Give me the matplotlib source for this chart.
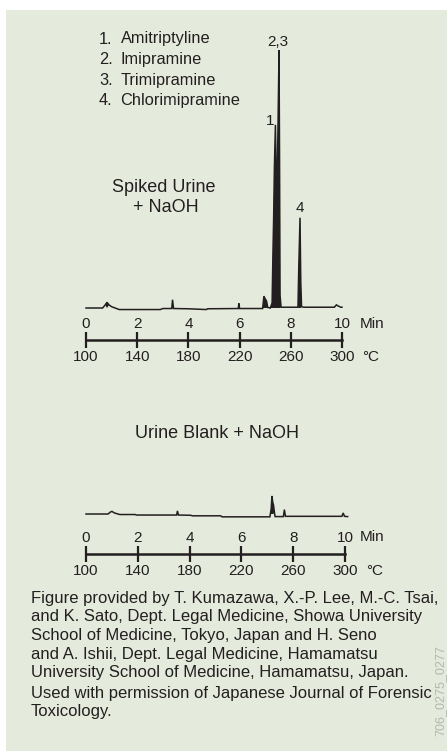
import matplotlib
matplotlib.use("Agg")
import matplotlib.pyplot as plt
from matplotlib.patches import Rectangle

W, H = 447, 751
plt.rcParams['font.family'] = ['Liberation Sans', 'DejaVu Sans']

INK = '#231f20'
PANEL = '#e5ebdc'

compounds = ['Amitriptyline', 'Imipramine', 'Trimipramine', 'Chlorimipramine']

# spiked urine + NaOH: retention time (min) and detector response (peak 2,3 = 100)
spiked_t = [0.0, 0.65, 0.75, 0.82, 0.9, 1.0, 1.3, 2.9, 3.0, 3.35, 3.38, 3.42,
            4.0, 4.7, 4.75, 5.95, 5.97, 6.0, 6.9, 6.95, 7.0, 7.05, 7.1, 7.2,
            7.27, 7.30, 7.33, 7.36, 7.40, 7.43, 7.46, 7.50, 7.54, 7.56, 7.58,
            7.62, 7.7, 8.28, 8.31, 8.36, 8.39, 8.42, 8.5, 9.7, 9.78, 9.85,
            9.95, 10.0]
spiked_s = [0.0, 0.0, 1.2, 2.2, 1.2, 0.5, -0.6, -0.6, -0.2, -0.2, 3.2, -0.2,
            -0.3, -0.6, -0.3, -0.2, 1.8, -0.2, -0.2, 4.6, 3.5, 2.8, 0.2, 0.0,
            2.0, 20.0, 35.0, 55.0, 71.0, 50.0, 44.0, 70.0, 100.0, 60.0, 5.0,
            0.3, 0.3, 0.3, 15.0, 35.0, 10.0, 0.5, 0.3, 0.3, 1.2, 0.8,
            0.3, 0.3]

peak_labels = ['1', '2,3', '4']
peak_t = [7.40, 7.54, 8.36]
peak_s = [71.0, 100.0, 35.0]

# urine blank + NaOH, same response units
blank_t = [0.0, 0.85, 0.95, 1.0, 1.1, 1.3, 1.9, 1.95, 3.5, 3.53, 3.57, 4.05,
           4.1, 5.2, 5.25, 7.1, 7.15, 7.18, 7.21, 7.24, 7.27, 7.3, 7.62, 7.66,
           7.7, 9.88, 9.93, 9.98, 10.1]
blank_s = [0.0, 0.0, 0.8, 1.0, 0.4, -0.2, -0.2, -0.4, -0.4, 1.2, -0.4, -0.5,
           -0.7, -0.7, -1.1, -1.1, 2.0, 7.0, 4.5, 3.5, 1.0, -1.0, -1.0, 1.7,
           -0.9, -0.9, 0.4, -0.9, -1.0]

min_ticks = [0, 2, 4, 6, 8, 10]
temp_ticks = [100, 140, 180, 220, 260, 300]

footnote = [
    'Figure provided by T. Kumazawa, X.-P. Lee, M.-C. Tsai,',
    'and K. Sato, Dept. Legal Medicine, Showa University',
    'School of Medicine, Tokyo, Japan and H. Seno',
    'and A. Ishii, Dept. Legal Medicine, Hamamatsu',
    'University School of Medicine, Hamamatsu, Japan.',
]
footnote2 = ['Used with permission of Japanese Journal of Forensic',
             'Toxicology.']


def fx(x):
    return x / W


def fy(y):
    return 1 - y / H


def add_px_axes(fig, left, top, right, bottom):
    return fig.add_axes([fx(left), fy(bottom), (right - left) / W, (bottom - top) / H])


def trace_axes(fig, t, s, left, right, base_y, ylim):
    scale = 2.58  # px per response unit
    ax = add_px_axes(fig, left, base_y - ylim[1] * scale, right, base_y - ylim[0] * scale)
    ax.set_xlim(0, 10)
    ax.set_ylim(*ylim)
    ax.axis('off')
    ax.plot(t, s, color=INK, lw=1.1, solid_joinstyle='miter', clip_on=False)
    ax.fill_between(t, s, 0, where=[v > 1.5 for v in s], color=INK, lw=0, interpolate=True)
    return ax


def scale_bar(fig, left, right, y):
    sc = fig.add_axes([fx(left), fy(y), (right - left) / W, 0.0001])
    sc.set_xlim(0, 10)
    sc.patch.set_visible(False)
    for side in ['left', 'right', 'bottom']:
        sc.spines[side].set_visible(False)
    sc.spines['top'].set_linewidth(1.8)
    sc.spines['top'].set_color(INK)
    sc.set_yticks([])
    sc.xaxis.set_ticks_position('top')
    sc.set_xticks(min_ticks, labels=[str(m) for m in min_ticks])
    sc.tick_params(axis='x', direction='inout', length=12, width=1.6, color=INK,
                   labelsize=11, labelcolor=INK, pad=0.2, labeltop=True, labelbottom=False)
    sec = sc.secondary_xaxis('bottom')
    sec.set_xticks(min_ticks, labels=[str(c) for c in temp_ticks])
    sec.spines['bottom'].set_visible(False)
    sec.tick_params(axis='x', length=0, labelsize=11, labelcolor=INK, pad=7.5)
    return sc


fig = plt.figure(figsize=(W / 100, H / 100), dpi=100)
fig.patch.set_facecolor('white')
fig.add_artist(Rectangle((fx(6), 0), 1 - fx(6), fy(10), transform=fig.transFigure,
                         facecolor=PANEL, edgecolor='none', zorder=0))

# spiked chromatogram
ax1 = trace_axes(fig, spiked_t, spiked_s, 86, 342, 308, (-5, 105))
offsets = [(-4, -2), (-1, 1), (0, 2)]
for lab, t, s, off in zip(peak_labels, peak_t, peak_s, offsets):
    ax1.annotate(lab, xy=(t, s), xytext=off, textcoords='offset points',
                 ha='center', va='bottom', fontsize=11, color=INK)
scale_bar(fig, 86, 342, 340)

# blank chromatogram
ax2 = trace_axes(fig, blank_t, blank_s, 86, 345, 514, (-5, 20))
scale_bar(fig, 86, 345, 554)

txt = dict(color=INK, va='center')
for i, name in enumerate(compounds):
    y = 39 + i * 20.6
    fig.text(fx(99), fy(y), f'{i + 1}.', fontsize=11.8, ha='left', **txt)
    fig.text(fx(120.5), fy(y), name, fontsize=11.8, ha='left', **txt)

fig.text(fx(164), fy(187), 'Spiked Urine', fontsize=13, ha='center', **txt)
fig.text(fx(166), fy(207), '+ NaOH', fontsize=13, ha='center', **txt)
fig.text(fx(217), fy(433), 'Urine Blank + NaOH', fontsize=13, ha='center', **txt)

fig.text(fx(360), fy(324), 'Min', fontsize=11, ha='left', **txt)
fig.text(fx(362), fy(357), '°C', fontsize=11, ha='left', **txt)
fig.text(fx(360), fy(537), 'Min', fontsize=11, ha='left', **txt)
fig.text(fx(366), fy(571), '°C', fontsize=11, ha='left', **txt)

for i, line in enumerate(footnote):
    fig.text(fx(30.7), fy(598.3 + i * 18.6), line, fontsize=12, ha='left', **txt)
for i, line in enumerate(footnote2):
    fig.text(fx(30.7), fy(693.3 + i * 18.4), line, fontsize=12, ha='left', **txt)

fig.text(fx(440), fy(645), '706_0275_0277', rotation=90, fontsize=9,
         color='#b3b8ab', ha='center', va='top')

fig.savefig('out.png', dpi=100, facecolor=fig.get_facecolor())
